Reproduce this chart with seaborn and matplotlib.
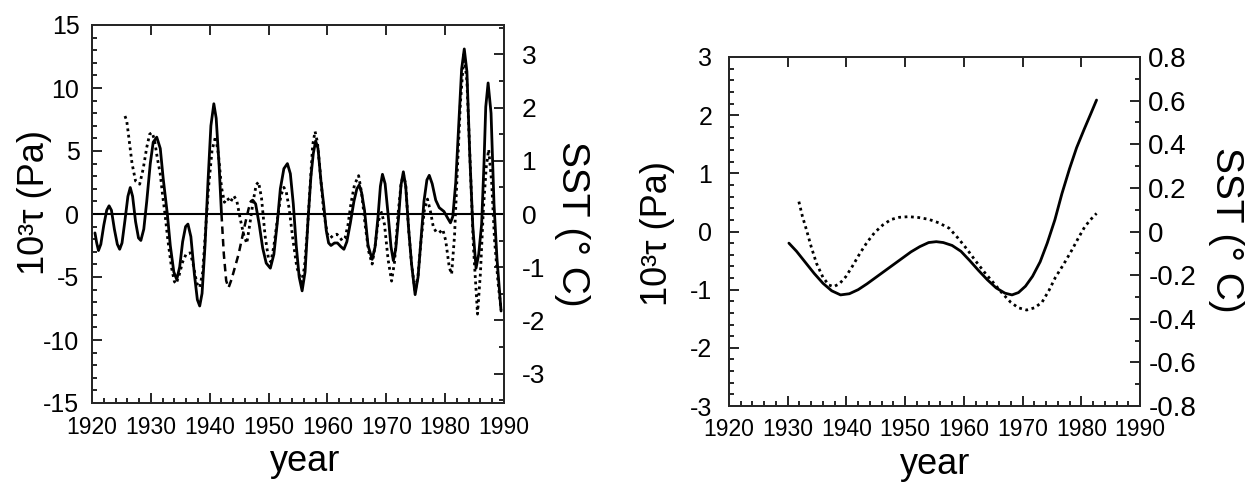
import seaborn as sns
import matplotlib.pyplot as plt
from matplotlib.ticker import MultipleLocator

# ---- left panel: filtered wind stress (solid, dashed over the war gap) and SST (dotted)
tau_years = [1920.5, 1920.8, 1921.1, 1921.5, 1922.0, 1922.5, 1922.9, 1923.3, 1923.8, 1924.3,
             1924.7, 1925.1, 1925.6, 1926.1, 1926.5, 1926.9, 1927.4, 1927.9, 1928.3, 1928.8,
             1929.3, 1929.9, 1930.4, 1931.0, 1931.6, 1932.1, 1932.8, 1933.3, 1933.9, 1934.4,
             1934.9, 1935.4, 1935.9, 1936.3, 1936.8, 1937.4, 1937.9, 1938.3, 1938.7, 1939.2,
             1939.7, 1940.2, 1940.7, 1941.1, 1941.6, 1942.0]
tau_vals = [-1.5, -2.3, -2.9, -2.4, -0.9, 0.3, 0.65, 0.3, -1.2, -2.4,
            -2.8, -2.3, -0.5, 1.4, 2.1, 1.4, -0.6, -1.9, -2.1, -1.2,
            1.0, 4.0, 5.7, 6.1, 5.2, 2.8, 0.0, -2.5, -4.6, -5.2,
            -4.2, -2.2, -1.0, -0.8, -1.8, -4.8, -6.8, -7.3, -6.3, -2.5,
            2.5, 7.0, 8.75, 7.6, 3.8, 0.0]

gap_years = [1942.0, 1942.4, 1942.8, 1943.2, 1943.7, 1944.3, 1944.9, 1945.5, 1946.1, 1946.6, 1947.0]
gap_vals = [0.0, -3.2, -5.3, -5.85, -5.2, -4.2, -3.2, -1.9, -0.6, 0.4, 1.0]

tau2_years = [1947.0, 1947.3, 1947.8, 1948.4, 1949.0, 1949.6, 1950.3, 1950.9, 1951.5, 1952.0,
              1952.6, 1953.2, 1953.7, 1954.2, 1954.7, 1955.2, 1955.7, 1956.2, 1956.7, 1957.2,
              1957.6, 1958.0, 1958.4, 1958.9, 1959.4, 1959.8, 1960.2, 1960.6, 1961.2, 1961.7,
              1962.3, 1962.8, 1963.3, 1963.9, 1964.5, 1965.0, 1965.4, 1965.8, 1966.3, 1966.9,
              1967.6, 1968.1, 1968.6, 1969.0, 1969.35, 1969.8, 1970.3, 1970.8, 1971.2, 1971.6,
              1972.1, 1972.5, 1972.9, 1973.3, 1973.8, 1974.3, 1974.9, 1975.4, 1975.9, 1976.4,
              1976.9, 1977.3, 1977.8, 1978.4, 1979.0, 1979.8, 1980.4, 1980.9, 1981.3, 1981.8,
              1982.3, 1982.8, 1983.25, 1983.7, 1984.2, 1984.7, 1985.25, 1985.7, 1986.2, 1986.6,
              1986.9, 1987.3, 1987.8, 1988.3, 1988.8, 1989.5]
tau2_vals = [1.0, 1.1, 0.8, -0.8, -2.7, -3.9, -4.3, -3.2, -0.6, 2.0,
             3.6, 4.0, 3.2, 0.8, -2.5, -5.0, -6.1, -4.6, -0.5, 3.0,
             4.8, 5.8, 5.2, 2.6, 0.6, -1.3, -2.3, -2.5, -2.3, -2.3,
             -2.6, -2.8, -2.2, -0.7, 1.0, 2.0, 2.3, 1.7, 0.3, -2.5,
             -3.6, -2.6, -0.2, 2.2, 3.15, 2.4, 0.0, -2.6, -3.7, -2.8,
             -0.2, 2.3, 3.35, 2.2, -1.2, -4.0, -6.4, -5.0, -2.0, 1.0,
             2.7, 3.07, 2.4, 1.1, 0.5, 0.2, -0.3, -0.7, -0.2, 2.5,
             7.0, 11.5, 13.1, 11.3, 4.5, -1.0, -4.3, -3.2, -0.8, 4.0,
             8.5, 10.4, 8.0, 0.8, -3.5, -7.7]

sst_years = [1925.6, 1925.9, 1926.3, 1926.8, 1927.4, 1928.1, 1928.7, 1929.3, 1929.8, 1930.2,
             1930.6, 1931.1, 1931.6, 1932.0, 1932.4, 1932.9, 1933.5, 1934.0, 1934.3, 1934.8,
             1935.4, 1936.0, 1936.7, 1937.2, 1937.8, 1938.3, 1938.8, 1939.3, 1939.8, 1940.4,
             1941.0, 1941.5, 1942.0, 1942.5, 1943.0, 1943.5, 1944.1, 1944.6, 1945.2, 1945.8,
             1946.3, 1946.8, 1947.4, 1947.9, 1948.3, 1948.8, 1949.4, 1950.0, 1950.4, 1950.9,
             1951.5, 1952.1, 1952.6, 1953.0, 1953.5, 1954.1, 1954.8, 1955.6, 1956.1, 1956.6,
             1957.1, 1957.5, 1957.9, 1958.3, 1958.8, 1959.4, 1960.0, 1960.5, 1961.0, 1961.6,
             1962.0, 1962.5, 1963.0, 1963.5, 1964.0, 1964.6, 1965.3, 1965.8, 1966.4, 1967.0,
             1967.6, 1968.1, 1968.6, 1969.2, 1969.7, 1970.3, 1970.9, 1971.4, 1972.0, 1972.5,
             1972.9, 1973.3, 1973.8, 1974.3, 1974.9, 1975.4, 1975.9, 1976.5, 1977.0, 1977.5,
             1978.0, 1978.5, 1979.0, 1979.6, 1980.1, 1980.7, 1981.1, 1981.6, 1982.1, 1982.6,
             1983.2, 1983.7, 1984.2, 1984.8, 1985.5, 1986.0, 1986.5, 1987.0, 1987.4, 1987.9,
             1988.4, 1989.0, 1989.5]
sst_vals = [1.84, 1.75, 1.4, 0.95, 0.62, 0.56, 0.85, 1.25, 1.5, 1.53,
            1.4, 1.05, 0.75, 0.35, 0.0, -0.5, -1.0, -1.27, -1.31, -1.15,
            -0.9, -0.75, -0.73, -0.95, -1.3, -1.38, -1.1, -0.3, 0.5, 1.2,
            1.46, 1.1, 0.5, 0.22, 0.3, 0.22, 0.34, 0.25, -0.1, -0.4,
            -0.55, -0.2, 0.25, 0.55, 0.6, 0.3, -0.4, -0.85, -0.9, -0.6,
            -0.1, 0.35, 0.5, 0.42, 0.1, -0.45, -1.0, -1.28, -1.0, -0.3,
            0.6, 1.3, 1.55, 1.35, 0.75, 0.0, -0.38, -0.45, -0.4, -0.38,
            -0.42, -0.5, -0.45, -0.2, 0.2, 0.55, 0.72, 0.4, -0.2, -0.7,
            -0.94, -0.6, -0.15, 0.03, -0.2, -0.85, -1.26, -0.9, 0.0, 0.55,
            0.75, 0.55, -0.3, -0.95, -1.45, -1.15, -0.5, 0.1, 0.28, 0.05,
            -0.25, -0.34, -0.35, -0.29, -0.5, -1.0, -1.13, -0.4, 0.9, 2.1,
            3.0, 2.5, 1.1, -0.6, -1.88, -1.1, 0.1, 0.9, 1.21, 0.6,
            -0.5, -1.3, -1.8]

# ---- right panel: long-term trends
trend_tau_years = [1930.2, 1931.5, 1933.0, 1934.5, 1936.0, 1937.5, 1939.0, 1940.5, 1942.0, 1943.5,
                   1945.0, 1946.5, 1948.0, 1949.5, 1951.0, 1952.5, 1954.0, 1955.3, 1956.5, 1958.0,
                   1959.5, 1961.0, 1962.5, 1964.0, 1965.5, 1967.0, 1968.2, 1969.3, 1970.5, 1971.7,
                   1973.0, 1974.2, 1975.5, 1976.7, 1978.0, 1979.2, 1980.5, 1981.6, 1982.6]
trend_tau_vals = [-0.20, -0.34, -0.53, -0.72, -0.89, -1.02, -1.09, -1.07, -1.00, -0.90,
                  -0.79, -0.68, -0.57, -0.46, -0.35, -0.26, -0.19, -0.175, -0.19, -0.24,
                  -0.34, -0.50, -0.67, -0.83, -0.97, -1.06, -1.09, -1.05, -0.94, -0.77,
                  -0.52, -0.20, 0.20, 0.65, 1.08, 1.44, 1.76, 2.02, 2.26]
trend_sst_years = [1931.9, 1932.5, 1933.2, 1934.0, 1934.9, 1936.0, 1937.0, 1937.8, 1938.8, 1939.9,
                   1941.0, 1942.3, 1943.5, 1944.8, 1946.2, 1947.6, 1949.0, 1950.6, 1952.3, 1954.0,
                   1955.7, 1957.5, 1959.0, 1960.5, 1962.0, 1963.6, 1965.2, 1966.6, 1968.0, 1969.3,
                   1970.7, 1972.0, 1973.3, 1974.5, 1975.6, 1977.0, 1978.4, 1979.6, 1980.6, 1981.6,
                   1982.6]
trend_sst_vals = [0.137, 0.07, 0.007, -0.07, -0.146, -0.21, -0.245, -0.253, -0.24, -0.207,
                  -0.16, -0.10, -0.05, -0.005, 0.03, 0.055, 0.065, 0.068, 0.064, 0.056,
                  0.04, 0.015, -0.03, -0.08, -0.135, -0.19, -0.24, -0.285, -0.325, -0.35,
                  -0.36, -0.35, -0.325, -0.27, -0.21, -0.15, -0.085, -0.025, 0.022, 0.055,
                  0.083]

sns.set_style("ticks")
plt.rcParams['font.family'] = ['Liberation Sans', 'DejaVu Sans']
plt.rcParams['axes.unicode_minus'] = False
plt.rcParams['axes.linewidth'] = 1.4
plt.rcParams['text.color'] = 'k'
plt.rcParams['axes.labelcolor'] = 'k'

LABEL = 26
XTICK = 16.5
dotted = (0, (1, 1.3))


def style_axis(ax, ysize=18, xpad=9, ypad=8):
    ax.tick_params(axis='both', which='both', direction='in', colors='k', width=1.2)
    ax.tick_params(axis='both', which='major', length=7)
    ax.tick_params(axis='both', which='minor', length=3.5)
    ax.tick_params(axis='x', pad=xpad, labelsize=XTICK)
    ax.tick_params(axis='y', pad=ypad, labelsize=ysize)


fig = plt.figure(figsize=(12.55, 4.91), dpi=100)

# left panel
ax1 = fig.add_axes([92 / 1255, 88 / 491, 412 / 1255, 378 / 491])
sns.lineplot(x=tau_years, y=tau_vals, ax=ax1, color='k', lw=2.0)
sns.lineplot(x=gap_years, y=gap_vals, ax=ax1, color='k', lw=1.8, linestyle=(0, (3, 2)))
sns.lineplot(x=tau2_years, y=tau2_vals, ax=ax1, color='k', lw=2.0)
ax1.axhline(0, color='k', lw=1.5)
ax1.set_xlim(1920, 1990)
ax1.set_ylim(-15, 15)
ax1.xaxis.set_major_locator(MultipleLocator(10))
ax1.xaxis.set_minor_locator(MultipleLocator(2))
ax1.yaxis.set_major_locator(MultipleLocator(5))
ax1.yaxis.set_minor_locator(MultipleLocator(1))
style_axis(ax1, ypad=9)
ax1.tick_params(top=True, right=False)
ax1.set_ylabel('10³τ (Pa)', fontsize=LABEL, va='center')
ax1.yaxis.set_label_coords(-0.14, 0.53)
ax1.set_xlabel('year', fontsize=LABEL, va='center')
ax1.xaxis.set_label_coords(0.517, -0.156)

ax1b = ax1.twinx()
sns.lineplot(x=sst_years, y=sst_vals, ax=ax1b, color='k', lw=2.0, linestyle=dotted)
ax1b.set_ylim(-3.55, 3.55)
ax1b.yaxis.set_major_locator(MultipleLocator(1))
ax1b.yaxis.set_minor_locator(MultipleLocator(0.5))
style_axis(ax1b, ysize=19, ypad=13)
ax1b.set_ylabel('SST (° C)', fontsize=28, rotation=270, va='center')
ax1b.yaxis.set_label_coords(1.165, 0.474)

# right panel
ax2 = fig.add_axes([729 / 1255, 85 / 491, 411 / 1255, 349 / 491])
sns.lineplot(x=trend_tau_years, y=trend_tau_vals, ax=ax2, color='k', lw=2.0)
ax2.set_xlim(1920, 1990)
ax2.set_ylim(-3, 3)
ax2.xaxis.set_major_locator(MultipleLocator(10))
ax2.xaxis.set_minor_locator(MultipleLocator(2))
ax2.yaxis.set_major_locator(MultipleLocator(1))
ax2.yaxis.set_minor_locator(MultipleLocator(0.2))
style_axis(ax2, ypad=12)
ax2.tick_params(top=True, right=False)
ax2.set_ylabel('10³τ (Pa)', fontsize=LABEL, va='center')
ax2.yaxis.set_label_coords(-0.173, 0.493)
ax2.set_xlabel('year', fontsize=LABEL, va='center')
ax2.xaxis.set_label_coords(0.501, -0.169)

ax2b = ax2.twinx()
sns.lineplot(x=trend_sst_years, y=trend_sst_vals, ax=ax2b, color='k', lw=2.0, linestyle=dotted)
ax2b.set_ylim(-0.8, 0.8)
ax2b.yaxis.set_major_locator(MultipleLocator(0.2))
ax2b.yaxis.set_minor_locator(MultipleLocator(0.1))
ax2b.yaxis.set_major_formatter(lambda v, p: '0' if abs(v) < 1e-9 else f'{v:.1f}')
style_axis(ax2b, ysize=20, ypad=6)
ax2b.set_ylabel('SST (° C)', fontsize=28, rotation=270, va='center')
ax2b.yaxis.set_label_coords(1.21, 0.504)

fig.savefig('out.png', dpi=100)
